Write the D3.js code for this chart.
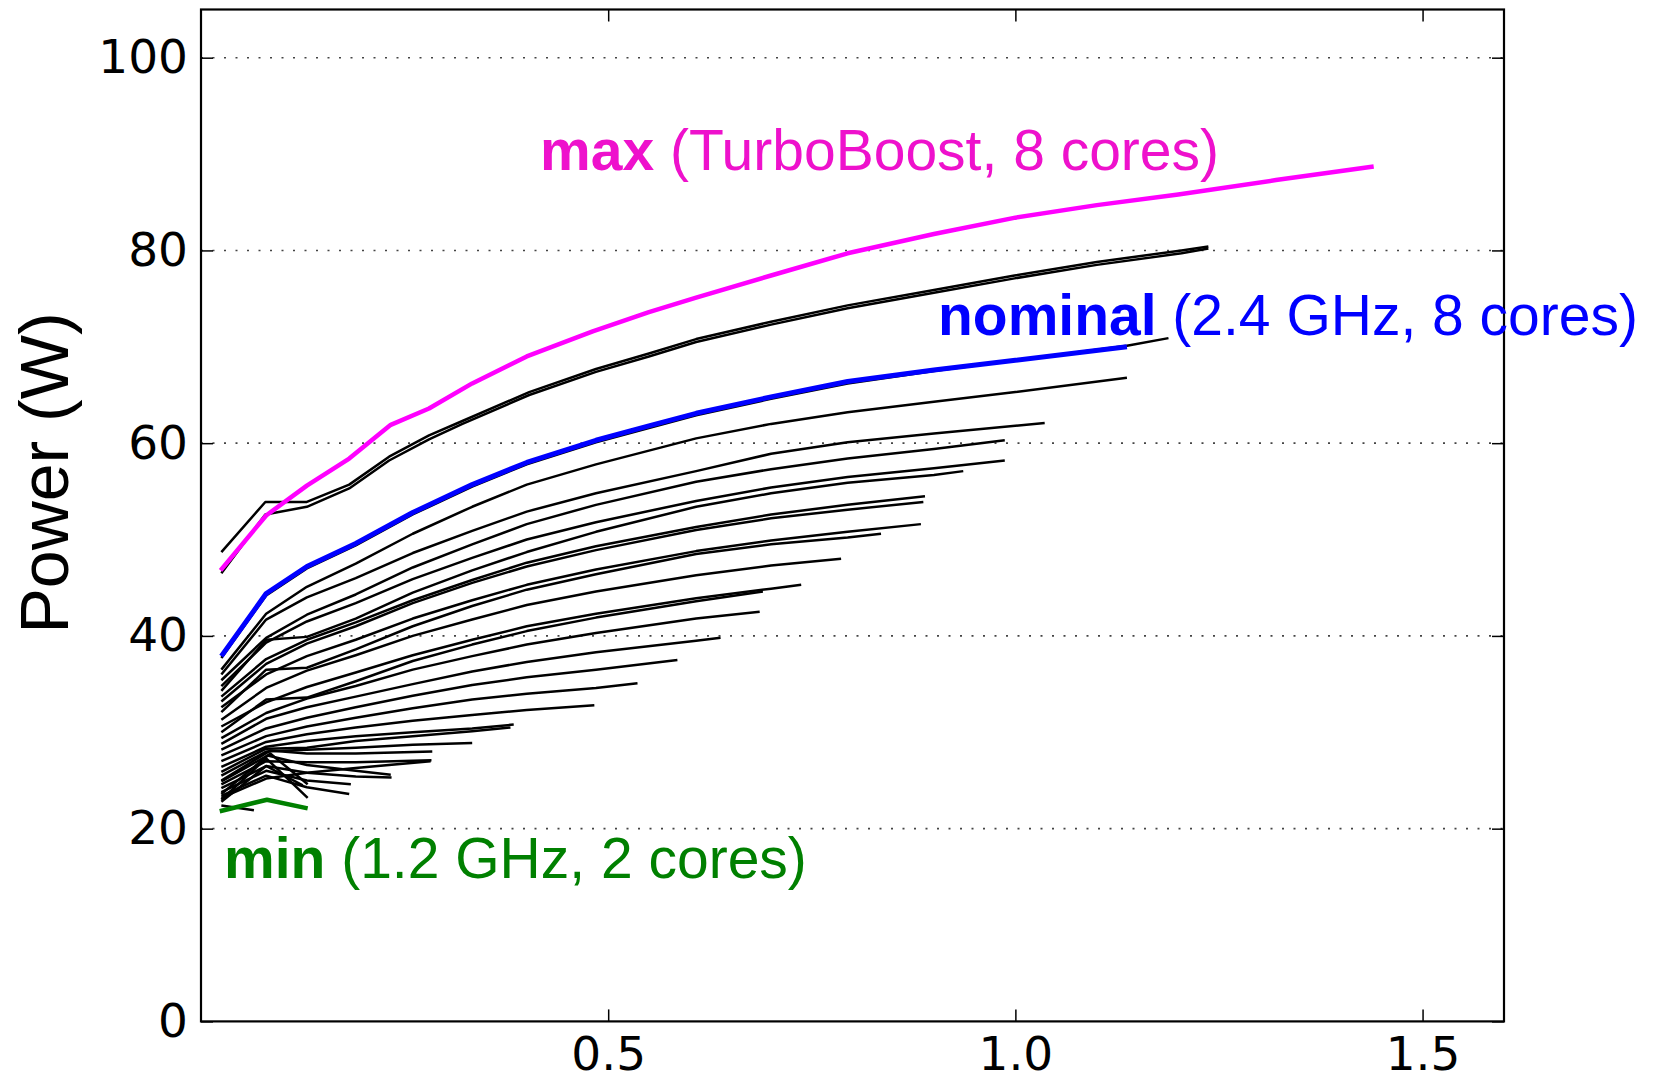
<!DOCTYPE html>
<html>
<head>
<meta charset="utf-8">
<script src="https://cdn.jsdelivr.net/npm/d3@7"></script>
<style>
  html, body { margin: 0; padding: 0; background: #fff; }
  svg { display: block; }
  .tick text { font-family: "DejaVu Sans", sans-serif; font-size: 47px; fill: #000; }
  .note { font-family: "Liberation Sans", Arial, sans-serif; font-size: 57px; white-space: pre; }
</style>
</head>
<body>
<div id="chart"></div>
<script>
// axis ticks
var xTicks = [0.5, 1.0, 1.5];
var yTicks = [0, 20, 40, 60, 80, 100];
var gridValues = [20, 40, 60, 80, 100];

// highlighted configurations, [throughput, power]
var maxTurbo = [[0.024,46.8],[0.080,52.5],[0.130,55.6],[0.182,58.4],[0.233,61.9],[0.280,63.6],[0.333,66.2],[0.400,69.0],[0.481,71.6],[0.550,73.6],[0.608,75.1],[0.700,77.4],[0.794,79.7],[0.900,81.7],[1.000,83.4],[1.100,84.7],[1.200,85.8],[1.320,87.3],[1.440,88.7]];
var nominal = [[0.025,37.9],[0.080,44.4],[0.130,47.2],[0.190,49.6],[0.260,52.8],[0.333,55.7],[0.400,58.0],[0.485,60.3],[0.550,61.8],[0.608,63.1],[0.700,64.8],[0.794,66.4],[0.900,67.6],[1.000,68.6],[1.137,70.0]];
var minConfig = [[0.023,21.8],[0.081,23.0],[0.131,22.1]];

// the other configurations (black)
var cfgA = [[0.025,48.7],[0.079,53.9],[0.130,53.9],[0.182,55.7],[0.231,58.6],[0.280,60.8],[0.321,62.3],[0.403,65.3],[0.485,67.7],[0.550,69.3],[0.608,70.8],[0.700,72.6],[0.794,74.3],[0.900,75.9],[0.999,77.4],[1.100,78.8],[1.204,80.0],[1.237,80.4]];
var cfgB = [[0.025,46.5],[0.079,52.6],[0.130,53.4],[0.182,55.3],[0.231,58.2],[0.280,60.4],[0.321,62.0],[0.403,65.0],[0.485,67.4],[0.550,69.0],[0.608,70.5],[0.700,72.3],[0.794,74.0],[0.900,75.6],[0.999,77.1],[1.100,78.5],[1.204,79.7],[1.237,80.2]];
var cfgShadow = [[0.025,37.7],[0.080,44.2],[0.130,47.0],[0.190,49.4],[0.260,52.6],[0.333,55.5],[0.400,57.8],[0.485,60.1],[0.608,62.9],[0.700,64.6],[0.794,66.2],[0.900,67.5],[1.000,68.6],[1.137,70.1],[1.188,70.9]];
var cfgL1 = [[0.025,36.5],[0.080,42.3],[0.130,45.1],[0.190,47.5],[0.260,50.6],[0.333,53.4],[0.400,55.7],[0.485,57.8],[0.608,60.5],[0.700,62.0],[0.794,63.2],[0.900,64.3],[1.000,65.3],[1.137,66.8]];
var cfgL2 = [[0.025,36.0],[0.080,41.7],[0.130,44.0],[0.190,46.0],[0.260,48.6],[0.333,50.9],[0.400,52.9],[0.485,54.8],[0.608,57.1],[0.700,58.9],[0.794,60.1],[0.900,61.0],[1.036,62.1]];
var cfgL3 = [[0.025,35.4],[0.080,39.8],[0.130,42.2],[0.190,44.3],[0.260,47.1],[0.333,49.5],[0.400,51.6],[0.485,53.6],[0.608,56.0],[0.700,57.3],[0.794,58.4],[0.900,59.4],[0.987,60.3]];
var cfgL4 = [[0.025,34.8],[0.080,39.3],[0.130,41.5],[0.190,43.4],[0.260,45.9],[0.333,48.1],[0.400,50.0],[0.485,51.8],[0.608,54.0],[0.700,55.4],[0.794,56.5],[0.900,57.4],[0.987,58.2]];
var cfgL5 = [[0.025,34.3],[0.080,39.6],[0.130,39.9],[0.190,41.8],[0.260,44.5],[0.333,46.8],[0.400,48.7],[0.485,50.8],[0.608,53.4],[0.700,54.8],[0.794,55.9],[0.900,56.7],[0.936,57.1]];
var cfgL6 = [[0.025,33.7],[0.080,37.6],[0.130,39.6],[0.190,41.4],[0.260,43.7],[0.333,45.8],[0.400,47.6],[0.485,49.3],[0.608,51.3],[0.700,52.6],[0.794,53.6],[0.889,54.5]];
var cfgL7 = [[0.025,33.2],[0.080,37.1],[0.130,39.2],[0.190,41.0],[0.260,43.4],[0.333,45.5],[0.400,47.2],[0.485,48.9],[0.608,51.0],[0.700,52.2],[0.794,53.1],[0.887,53.9]];
var cfgL8 = [[0.025,32.6],[0.080,36.0],[0.130,37.9],[0.190,39.6],[0.260,41.8],[0.333,43.7],[0.400,45.3],[0.485,46.9],[0.608,48.8],[0.700,49.9],[0.794,50.8],[0.884,51.6]];
var cfgL9 = [[0.025,32.1],[0.080,36.5],[0.130,36.7],[0.190,38.6],[0.260,41.0],[0.333,43.1],[0.400,44.8],[0.485,46.4],[0.608,48.5],[0.700,49.5],[0.794,50.2],[0.835,50.6]];
var cfgL10 = [[0.025,31.3],[0.080,34.6],[0.130,36.4],[0.190,38.0],[0.260,40.0],[0.333,41.7],[0.400,43.2],[0.485,44.6],[0.608,46.3],[0.700,47.3],[0.786,48.0]];
var cfgL11 = [[0.025,30.6],[0.080,33.1],[0.130,34.7],[0.190,36.2],[0.260,38.0],[0.333,39.6],[0.400,41.0],[0.485,42.3],[0.608,43.9],[0.700,44.9],[0.737,45.3]];
var cfgL12 = [[0.025,30.0],[0.080,33.4],[0.130,33.6],[0.190,35.3],[0.260,37.4],[0.333,39.1],[0.400,40.5],[0.485,41.9],[0.608,43.6],[0.690,44.6]];
var cfgL13 = [[0.025,29.4],[0.080,32.0],[0.130,33.5],[0.190,34.8],[0.260,36.5],[0.333,37.9],[0.400,39.1],[0.485,40.3],[0.608,41.8],[0.686,42.5]];
var cfgL14 = [[0.025,28.8],[0.080,31.4],[0.130,32.6],[0.190,33.7],[0.260,35.0],[0.333,36.3],[0.400,37.3],[0.485,38.3],[0.608,39.5],[0.638,39.8]];
var cfgS1 = [[0.025,28.2],[0.080,30.4],[0.130,31.5],[0.190,32.6],[0.260,33.8],[0.333,34.9],[0.400,35.7],[0.485,36.5],[0.585,37.5]];
var cfgS2 = [[0.025,27.6],[0.080,29.6],[0.130,30.6],[0.190,31.5],[0.260,32.5],[0.333,33.4],[0.400,34.0],[0.485,34.6],[0.536,35.1]];
var cfgS3 = [[0.025,27.0],[0.080,29.0],[0.130,29.8],[0.190,30.5],[0.260,31.2],[0.333,31.8],[0.400,32.3],[0.483,32.8]];
var cfgS4 = [[0.025,26.4],[0.080,28.5],[0.130,29.1],[0.190,29.6],[0.260,30.0],[0.333,30.4],[0.384,30.8]];
var cfgS5 = [[0.025,25.9],[0.080,28.3],[0.130,28.4],[0.190,29.1],[0.260,29.6],[0.333,30.1],[0.380,30.5]];
var cfgS6 = [[0.025,25.5],[0.080,28.0],[0.130,28.2],[0.190,28.4],[0.260,28.7],[0.333,28.9]];
var cfgS7 = [[0.025,25.0],[0.085,28.1],[0.130,27.8],[0.190,27.8],[0.284,28.0]];
var cfgS8 = [[0.025,24.6],[0.080,27.0],[0.130,26.9],[0.190,26.9],[0.283,27.1]];
var cfgS9 = [[0.025,24.2],[0.080,26.5],[0.130,25.8],[0.190,25.4],[0.234,25.3]];
var cfgS10 = [[0.025,23.8],[0.080,26.0],[0.130,25.0],[0.184,24.6]];
var cfgS11 = [[0.025,23.4],[0.080,25.5],[0.130,24.3],[0.182,23.6]];
var cfgS12 = [[0.025,23.0],[0.080,27.3],[0.131,23.2]];
var cfgS13 = [[0.025,22.8],[0.080,26.5],[0.125,24.5]];
var cfgS14 = [[0.025,22.4],[0.065,21.9]];
var cfgS15 = [[0.025,23.6],[0.085,27.8],[0.131,24.6]];
var cfgS16 = [[0.025,23.2],[0.080,25.2],[0.130,25.8],[0.190,26.3],[0.282,27.0]];
var cfgS17 = [[0.025,24.9],[0.082,27.6],[0.130,26.6],[0.190,26.0],[0.233,25.6]];

var blackConfigs = [cfgA, cfgB, cfgShadow, cfgL1, cfgL2, cfgL3, cfgL4, cfgL5, cfgL6, cfgL7, cfgL8, cfgL9, cfgL10, cfgL11, cfgL12, cfgL13, cfgL14,
	cfgS1, cfgS2, cfgS3, cfgS4, cfgS5, cfgS6, cfgS7, cfgS8, cfgS9, cfgS10, cfgS11, cfgS12, cfgS13, cfgS14, cfgS15, cfgS16, cfgS17];

// Set the dimensions and margins of the chart
var margin = {top: 9.5, right: 151, bottom: 58.6, left: 201},
	width = 1655 - margin.left - margin.right,
	height = 1080 - margin.top - margin.bottom;

var svg = d3.select("#chart")
	.append("svg")
	.attr("width", 1655)
	.attr("height", 1080);

svg.append("rect").attr("width", 1655).attr("height", 1080).attr("fill", "#fff");

var g = svg.append("g")
	.attr("transform", "translate(" + margin.left + "," + margin.top + ")");

var x = d3.scaleLinear().domain([0, 1.6]).range([0, width]);
var y = d3.scaleLinear().domain([0, 105]).range([height, 0]);

// dotted horizontal grid
g.selectAll(".grid")
	.data(gridValues)
	.enter()
	.append("line")
	.attr("class", "grid")
	.attr("x1", 0)
	.attr("x2", width)
	.attr("y1", function(d) { return y(d); })
	.attr("y2", function(d) { return y(d); })
	.attr("stroke", "#444")
	.attr("stroke-width", 1.6)
	.attr("stroke-dasharray", "2,9.5");

var line = d3.line()
	.x(function(d) { return x(d[0]); })
	.y(function(d) { return y(d[1]); });

// black configurations first, highlighted ones on top
g.selectAll(".cfg")
	.data(blackConfigs)
	.enter()
	.append("path")
	.attr("class", "cfg")
	.attr("d", line)
	.attr("fill", "none")
	.attr("stroke", "#000")
	.attr("stroke-width", 2.5)
	.attr("stroke-linejoin", "round");

var highlighted = [
	{data: minConfig, color: "#008000", w: 4.5},
	{data: nominal, color: "#0000ff", w: 5},
	{data: maxTurbo, color: "#ff00ff", w: 4.5}
];
g.selectAll(".hl")
	.data(highlighted)
	.enter()
	.append("path")
	.attr("class", "hl")
	.attr("d", function(d) { return line(d.data); })
	.attr("fill", "none")
	.attr("stroke", function(d) { return d.color; })
	.attr("stroke-width", function(d) { return d.w; })
	.attr("stroke-linejoin", "round");

// axes, ticks pointing inwards
g.append("g")
	.attr("transform", "translate(0," + height + ")")
	.call(d3.axisBottom(x).tickValues(xTicks).tickFormat(d3.format(".1f")).tickSize(-12).tickSizeOuter(0).tickPadding(15));
g.append("g")
	.call(d3.axisTop(x).tickValues(xTicks).tickFormat("").tickSize(-12).tickSizeOuter(0));
g.append("g")
	.call(d3.axisLeft(y).tickValues(yTicks).tickFormat(d3.format("d")).tickSize(-12).tickSizeOuter(0).tickPadding(13));
g.append("g")
	.attr("transform", "translate(" + width + ",0)")
	.call(d3.axisRight(y).tickValues(yTicks).tickFormat("").tickSize(-12).tickSizeOuter(0));

g.selectAll(".domain").remove();
g.selectAll(".tick line").attr("stroke", "#000").attr("stroke-width", 1.5);

// frame
g.append("rect")
	.attr("width", width)
	.attr("height", height)
	.attr("fill", "none")
	.attr("stroke", "#000")
	.attr("stroke-width", 2.2);

// y label
svg.append("text")
	.attr("transform", "translate(68,473) rotate(-90)")
	.attr("text-anchor", "middle")
	.style("font-family", "'Liberation Sans', Arial, sans-serif")
	.style("font-size", "68px")
	.text("Power (W)");

// annotations
var notes = [
	{bold: "max", rest: " (TurboBoost, 8 cores)", color: "#ee11cc", x: 540, y: 170},
	{bold: "nominal", rest: " (2.4 GHz, 8 cores)", color: "#0000ff", x: 938, y: 335},
	{bold: "min", rest: " (1.2 GHz, 2 cores)", color: "#008000", x: 224, y: 878}
];
notes.forEach(function(n) {
	var t = svg.append("text")
		.attr("class", "note")
		.attr("x", n.x)
		.attr("y", n.y)
		.attr("fill", n.color);
	t.append("tspan").attr("font-weight", "bold").text(n.bold);
	t.append("tspan").text(n.rest);
});
</script>
</body>
</html>
